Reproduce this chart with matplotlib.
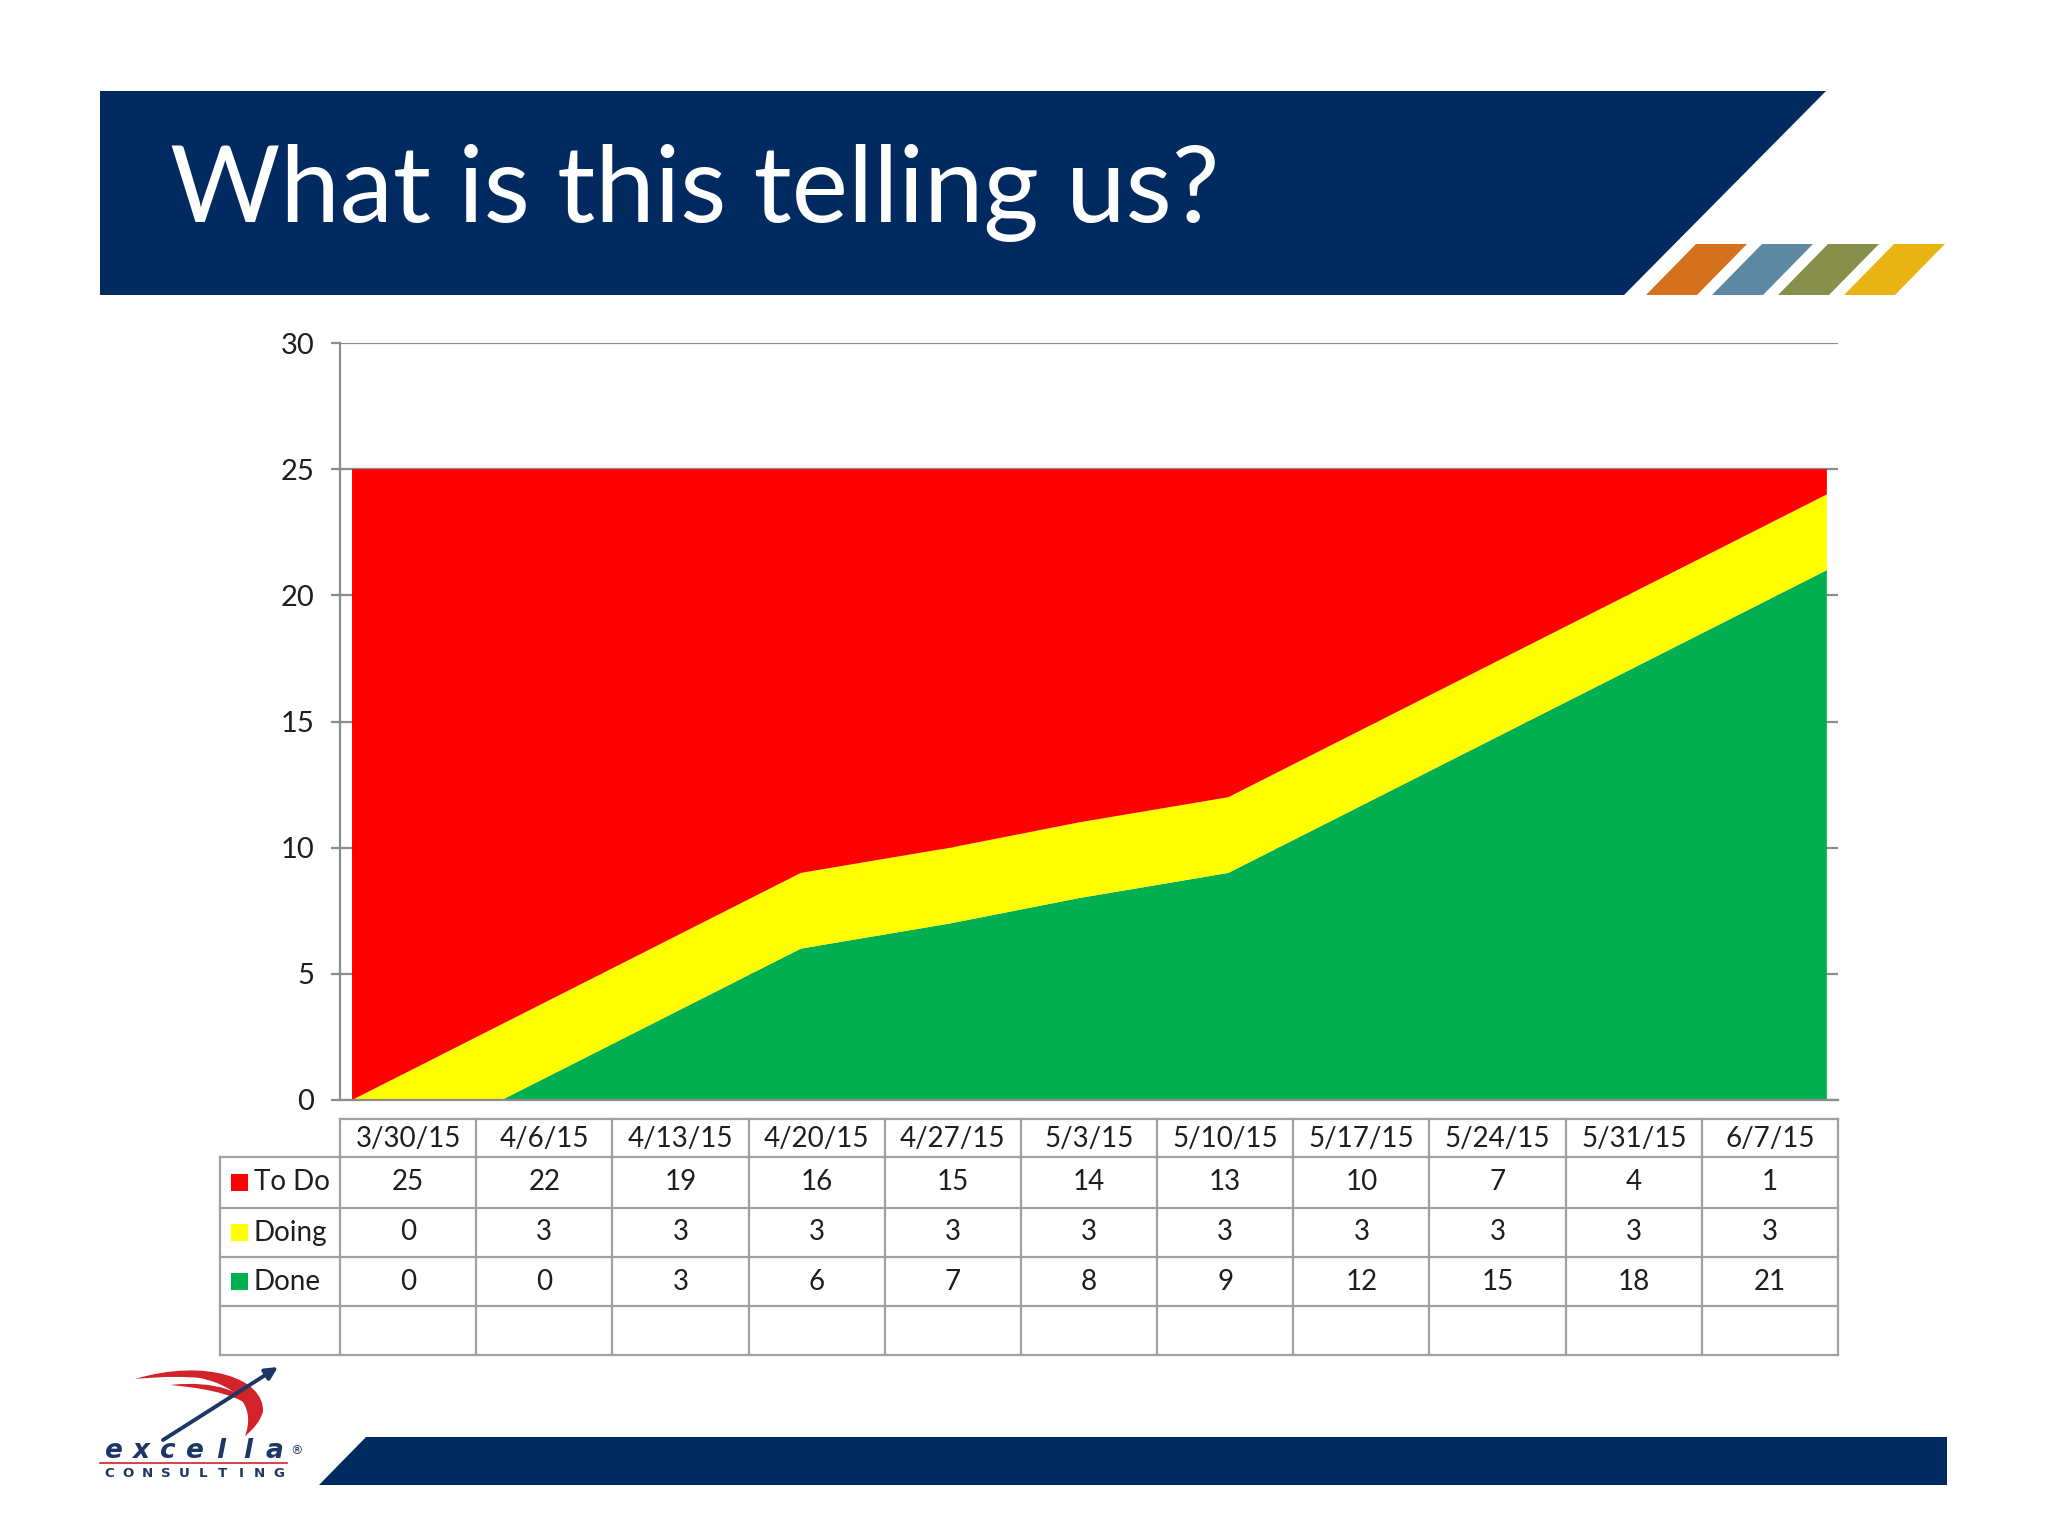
import matplotlib
matplotlib.use("Agg")
import matplotlib.pyplot as plt
from matplotlib.patches import Polygon, Rectangle, PathPatch
from matplotlib.path import Path
from datetime import datetime, timedelta

# ---------------- data ----------------
dates = ["3/30/15", "4/6/15", "4/13/15", "4/20/15", "4/27/15", "5/3/15",
         "5/10/15", "5/17/15", "5/24/15", "5/31/15", "6/7/15"]
todo = [25, 22, 19, 16, 15, 14, 13, 10, 7, 4, 1]
doing = [0, 3, 3, 3, 3, 3, 3, 3, 3, 3, 3]
done = [0, 0, 3, 6, 7, 8, 9, 12, 15, 18, 21]
series_names = ["To Do", "Doing", "Done"]
y_ticks = [0, 5, 10, 15, 20, 25, 30]
title = "What is this telling us?"

# ---------------- style ----------------
W, H = 2048, 1536
DPI = 200
NAVY = "#012B60"
RED = "#FF0000"
YELLOW = "#FFFF00"
GREEN = "#00B050"
GRID = "#8C8C8C"
TABLE_LINE = "#A0A0A0"
TXT = "#1E1E1E"
FONT = "Lato"

fig = plt.figure(figsize=(W / DPI, H / DPI), dpi=DPI)
fig.patch.set_facecolor("white")


def fx(px):
    return px / W


def fy(py):
    return 1 - py / H


# ---------------- main chart axes ----------------
ax_l, ax_r, ax_t, ax_b = 340, 1838, 343, 1100
ax = fig.add_axes([fx(ax_l), fy(ax_b), fx(ax_r - ax_l), (ax_b - ax_t) / H])
xd = [datetime.strptime(d, "%m/%d/%y") for d in dates]
ax.stackplot(xd, done, doing, todo, colors=[GREEN, YELLOW, RED],
             linewidth=0, zorder=3, antialiased=True)
ax.set_xlim(xd[0] - timedelta(hours=13.5), xd[-1] + timedelta(hours=12.5))
ax.set_ylim(0, 30)
ax.set_yticks(y_ticks)
ax.set_yticklabels([str(v) for v in y_ticks], fontsize=10.5, color=TXT,
                   family=FONT)
ax.tick_params(axis="y", direction="out", length=3.3, width=0.8,
               color=GRID, pad=6)
ax.tick_params(axis="x", bottom=False, labelbottom=False)
ax.yaxis.grid(True, color=GRID, linewidth=0.8, zorder=0)
ax.set_axisbelow(True)
for s in ["top", "right"]:
    ax.spines[s].set_visible(False)
for s in ["left", "bottom"]:
    ax.spines[s].set_color(GRID)
    ax.spines[s].set_linewidth(0.8)
ax.spines["bottom"].set_zorder(4)

# ---------------- overlay (pixel coordinates) ----------------
ov = fig.add_axes([0, 0, 1, 1])
ov.set_xlim(0, W)
ov.set_ylim(H, 0)
ov.set_axis_off()
ov.patch.set_visible(False)

# top banner
ov.add_patch(Polygon([(100, 91), (1826, 91), (1624, 295), (100, 295)],
                     closed=True, facecolor=NAVY, edgecolor="none"))
stripe_cols = ["#D5701C", "#5E87A2", "#87904A", "#E9B313"]
for i, c in enumerate(stripe_cols):
    x0 = 1646 + 66 * i
    ov.add_patch(Polygon([(x0, 295), (x0 + 51, 295), (x0 + 101, 244),
                          (x0 + 50, 244)], closed=True, facecolor=c,
                         edgecolor="none"))

# title
t = ov.text(170, 222, title, color="white", fontsize=40, family=FONT,
            fontweight="normal", ha="left", va="baseline")
fig.canvas.draw()
bb = t.get_window_extent(renderer=fig.canvas.get_renderer())
t.set_fontsize(40 * 1050 / bb.width)

# bottom banner
ov.add_patch(Polygon([(366, 1437), (1947, 1437), (1947, 1485), (319, 1485)],
                     closed=True, facecolor=NAVY, edgecolor="none"))

# ---------------- table ----------------
n = len(dates)
col_w = (ax_r - ax_l) / n
lab_l = 220
rows_y = [1119, 1157, 1208, 1257, 1306, 1355]
lw_t = 0.8
ov.plot([ax_l, ax_r], [rows_y[0], rows_y[0]], color=TABLE_LINE, lw=lw_t)
for yy in rows_y[1:]:
    ov.plot([lab_l, ax_r], [yy, yy], color=TABLE_LINE, lw=lw_t)
ov.plot([lab_l, lab_l], [rows_y[1], rows_y[-1]], color=TABLE_LINE, lw=lw_t)
for k in range(n + 1):
    xx = ax_l + k * col_w
    ov.plot([xx, xx], [rows_y[0], rows_y[-1]], color=TABLE_LINE, lw=lw_t)

tfs = 10
for k, d in enumerate(dates):
    cx = ax_l + (k + 0.5) * col_w
    ov.text(cx, (rows_y[0] + rows_y[1]) / 2 + 1, d, ha="center", va="center",
            fontsize=tfs, family=FONT, color=TXT)
series_vals = [todo, doing, done]
series_cols = [RED, YELLOW, GREEN]
for r, (name, vals, col) in enumerate(zip(series_names, series_vals,
                                          series_cols)):
    cy = (rows_y[r + 1] + rows_y[r + 2]) / 2
    ov.add_patch(Rectangle((231, cy - 8.5), 17, 17, facecolor=col,
                           edgecolor="none"))
    ov.text(254, cy, name, ha="left", va="center", fontsize=tfs,
            family=FONT, color=TXT)
    for k, v in enumerate(vals):
        cx = ax_l + (k + 0.5) * col_w
        ov.text(cx, cy, str(v), ha="center", va="center", fontsize=tfs,
                family=FONT, color=TXT)

# ---------------- logo ----------------
LRED = "#D2232A"
LNAVY = "#1C3766"
outer = Path([(135, 1379), (205, 1358), (265, 1378), (263, 1412),
              (258, 1427), (245, 1436), (245, 1436),
              (254, 1412), (245, 1388), (200, 1378), (170, 1375),
              (135, 1379), (135, 1379)],
             [Path.MOVETO, Path.CURVE4, Path.CURVE4, Path.CURVE4,
              Path.CURVE4, Path.CURVE4, Path.LINETO,
              Path.CURVE4, Path.CURVE4, Path.CURVE4,
              Path.CURVE4, Path.CURVE4, Path.CLOSEPOLY])
ov.add_patch(PathPatch(outer, facecolor=LRED, edgecolor="none"))
inner = Path([(170, 1385), (215, 1380), (245, 1392), (254, 1409),
              (240, 1397), (215, 1389), (170, 1385), (170, 1385)],
             [Path.MOVETO, Path.CURVE4, Path.CURVE4, Path.CURVE4,
              Path.CURVE4, Path.CURVE4, Path.CURVE4, Path.CLOSEPOLY])
ov.add_patch(PathPatch(inner, facecolor=LRED, edgecolor="none"))
ov.annotate("", xy=(278, 1367), xytext=(163, 1440),
            arrowprops=dict(arrowstyle="-|>", color=LNAVY, lw=1.4,
                            mutation_scale=9, shrinkA=0, shrinkB=0))
word = "excella"
step = 188 / len(word)
for i, ch in enumerate(word):
    ov.text(100 + (i + 0.5) * step, 1458, ch, ha="center", va="baseline",
            fontsize=9.5, family="DejaVu Sans", fontweight="bold",
            fontstyle="italic", color=LNAVY)
ov.text(296, 1451, "®", ha="center", va="center", fontsize=4.5,
        family="DejaVu Sans", color=LNAVY)
ov.plot([100, 287], [1462.5, 1462.5], color=LRED, lw=0.6)
word2 = "CONSULTING"
step2 = 188 / len(word2)
for i, ch in enumerate(word2):
    ov.text(100 + (i + 0.5) * step2, 1477, ch, ha="center", va="baseline",
            fontsize=4.8, family="DejaVu Sans", fontweight="bold",
            color=LNAVY)

fig.savefig("out.png", dpi=DPI, facecolor="white")
